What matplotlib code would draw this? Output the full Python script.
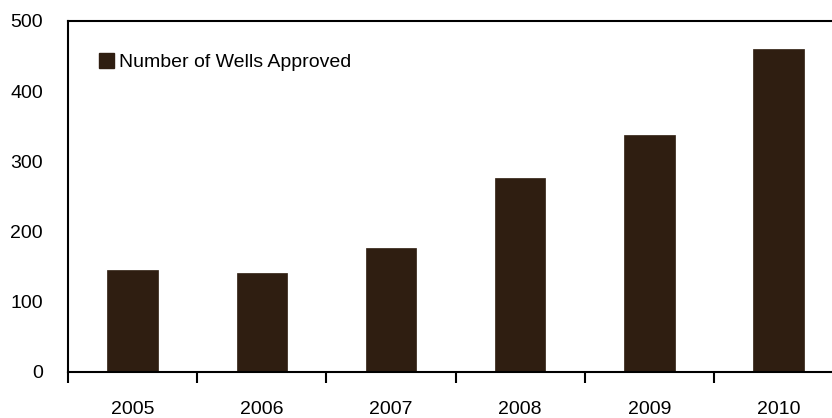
import matplotlib.pyplot as plt
import numpy as np
from matplotlib.patches import Patch

years = ['2005', '2006', '2007', '2008', '2009', '2010']
wells = [146, 141, 177, 277, 337, 460]

plt.rcParams['font.family'] = ['Liberation Sans Narrow', 'Liberation Sans', 'DejaVu Sans']

fig = plt.figure(figsize=(8.32, 4.18), dpi=100)
ax = fig.add_axes([68 / 832, 46 / 418, 6 * 129.2 / 832, 351 / 418])

x = np.arange(len(years))
ax.bar(x, wells, width=0.39, color='#2f1e11', edgecolor='#2f1e11', linewidth=0.5)

ax.set_xlim(-0.5, len(years) - 0.5)
ax.set_ylim(0, 500)
ax.set_yticks(range(0, 501, 100))
ax.set_xticks(x)
ax.set_xticklabels(years)
ax.set_xticks(np.arange(-0.5, len(years)), minor=True)

ax.tick_params(axis='y', length=0, pad=18, labelsize=14)
ax.tick_params(axis='x', which='major', length=0, pad=21, labelsize=14)
ax.tick_params(axis='x', which='minor', length=8, width=1.5, direction='out')

for side in ['left', 'top', 'bottom']:
    ax.spines[side].set_linewidth(1.5)
ax.spines['right'].set_visible(False)

ax.legend(handles=[Patch(color='#2f1e11', label='Number of Wells Approved')],
          loc='upper left', bbox_to_anchor=(0.03, 0.93), frameon=False,
          fontsize=14, handlelength=0.75, handleheight=0.75, handletextpad=0.3,
          borderaxespad=0)

fig.savefig('out.png', dpi=100)
